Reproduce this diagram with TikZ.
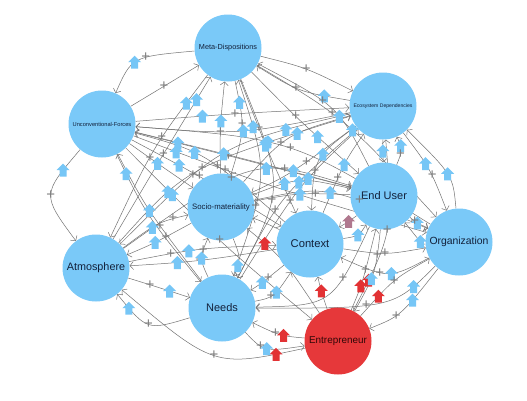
\documentclass[tikz,border=0pt]{standalone}
\usepackage{fontspec}
\setmainfont{Liberation Sans}
\usetikzlibrary{arrows.meta,calc}
\definecolor{nodeblue}{RGB}{122,201,248}
\definecolor{nodered}{RGB}{230,56,58}
\definecolor{mkb}{RGB}{118,198,246}
\definecolor{mkr}{RGB}{226,50,52}
\definecolor{mkp}{RGB}{176,120,142}
\definecolor{edgegray}{RGB}{115,115,115}
\definecolor{plgray}{RGB}{125,125,125}
\definecolor{txtblue}{RGB}{18,32,58}
\definecolor{txtred}{RGB}{50,8,8}
\pgfdeclarelayer{edgelayer}
\pgfdeclarelayer{marklayer}
\pgfsetlayers{edgelayer,main,marklayer}
\def\edgelist{%
MD/UF/140/64/.55/.38/b,
UF/MD/164/86/0/.5/n,
UF/AT/56/195/.18/.5/b,
AT/MD/160/160/.9/.55/b,
SM/MD/221/128/.6/0/b,
MD/SM/240/128/.18/.45/b,
ED/UF/240/130/.48/.62/b,
UF/ED/235/114/.3/.5/b,
UF/CX/205/180/.28/.45/b,
UF/EU/245/160/.15/.4/b,
UF/ND/150/215/.12/.5/b,
UF/OR/270/185/.12/.3/b,
UF/SM/160/165/.45/.3/b,
UF/EN/220/240/.2/.5/b,
MD/ED/306/70/0/.5/n,
ED/MD/300/88/.2/.55/b,
MD/EU/300/120/.7/.45/b,
MD/CX/268/150/.45/.3/b,
MD/OR/345/125/.55/.4/b,
MD/ND/270/185/.25/.6/b,
MD/AT/155/150/.15/.4/b,
ED/EU/383/151/.5/0/b,
EU/ED/398/150/.7/.3/b,
ED/OR/428/170/.4/.6/b,
ED/CX/322/162/.4/.65/b,
ED/SM/293/170/.5/.35/b,
ED/ND/285/200/.35/.6/b,
ED/AT/225/155/.2/.68/b,
SM/ED/290/140/.6/.4/b,
EU/SM/300/195/.5/.3/b,
SM/EU/300/183/.3/.6/b,
EU/CX/347/222/.4/0/p,
CX/EU/356/232/.5/0/b,
EU/OR/418/222/.5/.3/b,
OR/EU/422/238/.5/0/b,
EU/ND/325/292/.5/.3/n,
EU/UF/240/158/.6/.25/b,
EN/SM/282/262/.8/0/r,
CX/SM/262/222/.5/0/n,
CX/ND/262/282/.5/.3/b,
ND/CX/272/292/.6/.4/b,
CX/AT/200/260/.7/.5/b,
AT/CX/200/250/.4/.25/b,
CX/OR/385/252/0/.5/n,
OR/CX/388/270/.45/.62/b,
EN/CX/322/292/.55/0/r,
EN/EU/362/280/.4/.65/r,
EN/ED/385/230/.15/.5/r,
EN/OR/395/282/.22/.5/r,
EN/ND/280/333/.4/.6/r,
EN/AT/215/352/.12/.5/r,
ND/EN/268/345/.5/.35/b,
AT/ND/160/288/.7/.3/b,
ND/AT/150/320/.85/.5/b,
SM/AT/155/242/.5/.3/b,
AT/SM/158/226/.4/.8/b,
SM/ND/236/258/.75/0/b,
ND/SM/205/258/.5/.75/b,
AT/ED/200/172/.3/.52/b,
ND/UF/150/210/.5/.35/b,
CX/UF/205/160/.6/.4/b,
OR/ND/380/300/.2/.6/b,
OR/EN/400/310/.3/.6/b,
OR/ED/445/175/.5/0/b,
EU/EN/372/272/.6/.25/b,
CX/ED/345/165/.5/.3/b,
ND/MD/258/175/.8/.3/b,
AT/EU/250/175/.6/.4/b,
SM/OR/330/195/.5/.7/b,
OR/UF/290/150/.6/.5/b,
ND/ED/300/190/.6/.4/b,
EU/MD/330/110/.4/.6/b}
\begin{document}
\begin{tikzpicture}[x=1pt,y=-1pt,
  circ/.style={circle,fill=nodeblue,minimum size=67pt,inner sep=0pt,text=txtblue,align=center},
  redcirc/.style={circ,fill=nodered,text=txtred},
  edge/.style={draw=edgegray,line width=.5pt,-{Straight Barb[length=3.5pt,width=8pt]}},
  pl/.style={text=plgray,font=\fontsize{15}{15}\selectfont,inner sep=0pt}]
\useasboundingbox (0,0) rectangle (527,400);
\node[circ] (MD) at (228,48) {\fontsize{7.3}{8}\selectfont Meta-Dispositions};
\node[circ] (ED) at (383,106) {\fontsize{5.1}{6}\selectfont Ecosystem Dependencies};
\node[circ] (UF) at (102,124) {\fontsize{5.7}{6}\selectfont Unconventional-Forces};
\node[circ] (SM) at (221,207) {\fontsize{7.8}{9}\selectfont Socio-materiality};
\node[circ] (EU) at (384,196) {\fontsize{11}{12}\selectfont End User};
\node[circ] (CX) at (310,244) {\fontsize{11.2}{12}\selectfont Context};
\node[circ] (OR) at (459,242) {\fontsize{10.4}{12}\selectfont Organization};
\node[circ] (AT) at (96,268) {\fontsize{10.8}{12}\selectfont Atmosphere};
\node[circ] (ND) at (222,308) {\fontsize{11}{12}\selectfont Needs};
\node[redcirc] (EN) at (338,341) {\fontsize{9.9}{12}\selectfont Entrepreneur};
\begin{pgfonlayer}{edgelayer}
\fill[white] (0,0) rectangle (527,400);
\foreach \ea/\eb/\mx/\my/\tm/\tp/\ec [count=\i] in \edgelist {
  \draw[edge] (\ea) .. controls ($1.3333*(\mx,\my) - 0.16667*(\ea) - 0.16667*(\eb)$) .. (\eb)
     coordinate[pos=\tm] (m\i) coordinate[pos=\tp] (p\i);
}
\end{pgfonlayer}
\begin{pgfonlayer}{marklayer}
\foreach \ea/\eb/\mx/\my/\tm/\tp/\ec [count=\i] in \edgelist {
  \if\ec n\else
    \fill[mk\ec] (m\i) ++(-3.5,6.5) -- ++(7,0) -- ++(0,-6.5) -- ++(3,0) -- ++(-6.5,-6.5) -- ++(-6.5,6.5) -- ++(3,0) -- cycle;
  \fi
  \ifdim\tp pt>0pt \node[pl] (pl\i) at (p\i) {+};\fi
}
\end{pgfonlayer}
\end{tikzpicture}
\end{document}
